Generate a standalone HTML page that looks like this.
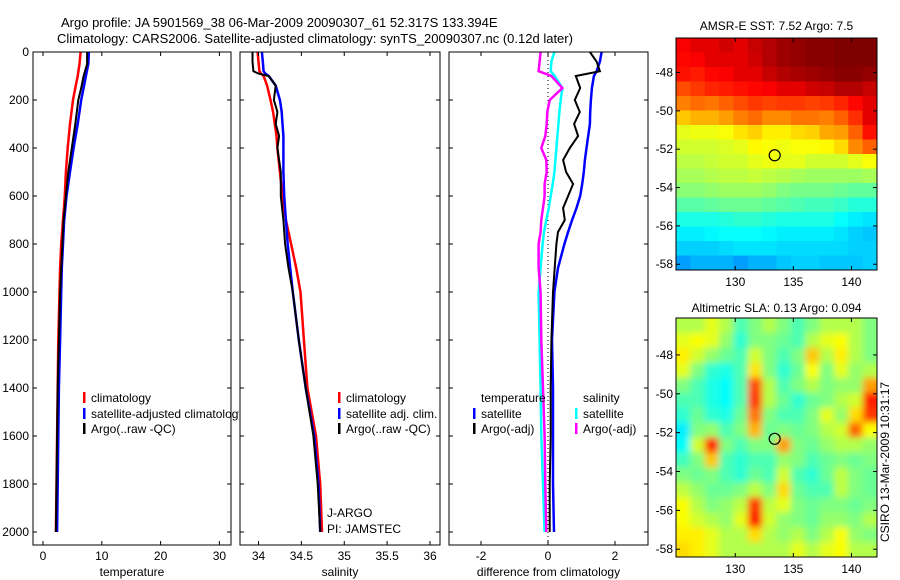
<!DOCTYPE html>
<html><head><meta charset="utf-8"><style>
html,body{margin:0;padding:0;background:#fff;}
svg{display:block;font-family:"Liberation Sans",Arial,sans-serif;}
</style></head><body>
<svg id="chart" width="900" height="580" viewBox="0 0 900 580" xmlns="http://www.w3.org/2000/svg">
<defs>
<clipPath id="cp1"><rect x="33" y="52" width="206" height="493"/></clipPath>
<clipPath id="cp2"><rect x="240" y="52" width="200" height="493"/></clipPath>
<clipPath id="cp3"><rect x="449" y="52" width="199" height="493"/></clipPath>
<clipPath id="cpm1"><rect x="676" y="38" width="201" height="232"/></clipPath>
<clipPath id="cpm2"><rect x="676" y="318" width="201" height="239"/></clipPath>
<filter id="blur" x="-10%" y="-10%" width="120%" height="120%"><feGaussianBlur stdDeviation="3.5"/></filter>
</defs>
<text x="61" y="27" font-size="13">Argo profile: JA 5901569_38 06-Mar-2009 20090307_61 52.317S 133.394E</text>
<text x="57" y="43" font-size="13">Climatology: CARS2006. Satellite-adjusted climatology: synTS_20090307.nc (0.12d later)</text>
<g id="g1"></g>
<g id="g2"></g>
<g id="g3"></g>
<g id="m1"></g>
<g id="m2"></g>
<text x="889" y="462" font-size="12" text-anchor="middle" transform="rotate(-90 889 462)">CSIRO 13-Mar-2009 10:31:17</text>
</svg>
<script>
// ---- data ----
const tDepth = [0,50,100,150,200,300,400,500,600,700,800,900,1000,1200,1400,1600,1800,2000];
const tClim  = [6.4,6.2,5.9,5.5,5.1,4.6,4.2,3.9,3.7,3.4,3.1,2.9,2.8,2.6,2.5,2.4,2.3,2.2];
const tSat   = [7.8,7.7,7.3,6.9,6.5,5.9,5.2,4.6,4.0,3.6,3.4,3.2,3.1,2.9,2.7,2.6,2.5,2.4];
const tArgo  = [7.5,7.5,6.9,6.5,6.0,5.5,4.9,4.3,3.9,3.5,3.3,3.1,2.9,2.7,2.5,2.4,2.3,2.2];
const sDepth = [0,40,80,90,100,140,200,250,300,350,400,500,600,700,800,900,1000,1200,1400,1600,1800,2000];
const sClim  = [33.99,34.0,34.01,34.03,34.06,34.10,34.14,34.17,34.19,34.21,34.22,34.25,34.28,34.32,34.38,34.44,34.49,34.53,34.57,34.67,34.72,34.74];
const sSat   = [34.04,34.05,34.06,34.08,34.12,34.20,34.25,34.27,34.28,34.29,34.29,34.29,34.30,34.32,34.34,34.37,34.40,34.47,34.55,34.65,34.70,34.72];
const sArgo  = [33.93,33.93,33.94,34.0,34.12,34.20,34.18,34.22,34.20,34.24,34.22,34.26,34.26,34.29,34.31,34.35,34.40,34.47,34.55,34.64,34.69,34.72];
const dDepth = [0,40,80,100,150,200,250,300,350,400,450,500,550,600,650,700,750,800,900,1000,1200,1400,1600,1800,2000];
const dSatT  = [1.6,1.55,1.45,1.37,1.31,1.28,1.26,1.25,1.2,1.15,1.1,1.07,1.02,0.96,0.85,0.72,0.6,0.49,0.3,0.19,0.12,0.15,0.15,0.15,0.18];
const dArgoT = [1.25,1.45,1.55,0.83,0.96,0.8,0.95,0.78,0.9,0.65,0.45,0.54,0.75,0.6,0.45,0.5,0.3,0.25,0.2,0.15,0.1,0.08,0.08,0.05,0.05];
const dSatS  = [0.19,0.1,0.08,0.2,0.43,0.38,0.34,0.31,0.28,0.25,0.22,0.19,0.14,0.08,0.02,-0.05,-0.12,-0.16,-0.22,-0.28,-0.25,-0.22,-0.2,-0.15,-0.1];
const dArgoS = [-0.22,-0.25,-0.28,0.1,0.43,0.05,-0.02,-0.04,-0.08,-0.2,-0.05,-0.04,-0.1,-0.1,-0.15,-0.2,-0.22,-0.28,-0.28,-0.22,-0.2,-0.15,-0.1,-0.08,-0.05];
const depthTicks = [0,200,400,600,800,1000,1200,1400,1600,1800,2000];
const tTicks = [0,10,20,30];
const sTicks = [34,34.5,35,35.5,36];
const sTickLabels = ["34","34.5","35","35.5","36"];
const dTicks = [-2,0,2];
const latTicks = [-48,-50,-52,-54,-56,-58];
const latLabels = ["-48","-50","-52","-54","-56","-58"];
const lonTicks = [130,135,140];
const sstGrid = [
[.88,.9,.9,.92,.9,.93,.95,.97,.98,.99,.99,1,1,1],
[.87,.88,.9,.9,.9,.92,.95,.97,.98,.99,.99,1,1,1],
[.86,.85,.87,.88,.9,.9,.93,.95,.96,.97,.98,.99,.99,.98],
[.8,.82,.84,.85,.86,.87,.88,.9,.9,.92,.93,.95,.95,.93],
[.75,.77,.76,.78,.8,.82,.81,.82,.82,.81,.82,.84,.87,.9],
[.68,.7,.7,.72,.75,.77,.74,.74,.76,.76,.75,.78,.83,.9],
[.6,.61,.61,.62,.65,.67,.64,.64,.66,.67,.71,.72,.78,.86],
[.58,.58,.58,.59,.6,.63,.62,.61,.62,.62,.63,.66,.74,.78],
[.56,.56,.57,.58,.58,.6,.61,.6,.6,.58,.58,.58,.6,.62],
[.54,.54,.55,.56,.56,.57,.56,.55,.54,.53,.53,.53,.53,.54],
[.51,.51,.52,.53,.53,.53,.52,.5,.49,.49,.49,.48,.47,.47],
[.46,.46,.47,.48,.48,.48,.47,.46,.45,.44,.44,.43,.41,.41],
[.4,.4,.4,.41,.42,.42,.41,.4,.4,.4,.4,.38,.36,.35],
[.36,.36,.37,.38,.38,.38,.37,.36,.36,.36,.36,.35,.33,.32],
[.33,.33,.33,.34,.35,.35,.35,.34,.34,.34,.34,.34,.33,.33],
[.28,.3,.3,.3,.28,.3,.3,.32,.33,.33,.32,.32,.32,.33]];
const slaGrid = [
[.55,.55,.6,.55,.45,.5,.55,.5,.45,.5,.55,.55,.55,.5],
[.6,.62,.6,.52,.42,.5,.5,.48,.45,.55,.6,.62,.55,.5],
[.64,.58,.52,.48,.45,.58,.5,.45,.5,.68,.55,.64,.55,.5],
[.6,.5,.42,.4,.45,.65,.5,.42,.48,.62,.5,.6,.52,.55],
[.5,.45,.4,.38,.45,.8,.55,.45,.5,.55,.5,.52,.52,.72],
[.45,.45,.4,.38,.45,.82,.55,.48,.42,.48,.5,.55,.58,.85],
[.42,.48,.42,.4,.48,.76,.5,.45,.45,.5,.6,.52,.66,.82],
[.36,.5,.52,.45,.5,.7,.48,.5,.48,.5,.55,.58,.78,.62],
[.38,.58,.84,.5,.45,.5,.5,.72,.5,.48,.52,.55,.55,.52],
[.44,.5,.68,.45,.42,.45,.45,.52,.5,.45,.48,.5,.48,.5],
[.5,.48,.5,.45,.42,.48,.45,.58,.45,.42,.48,.56,.5,.48],
[.56,.52,.48,.48,.5,.56,.5,.66,.48,.45,.45,.56,.5,.48],
[.62,.55,.5,.52,.56,.82,.56,.6,.5,.48,.5,.5,.48,.5],
[.62,.58,.55,.52,.6,.86,.58,.52,.5,.48,.52,.52,.5,.55],
[.64,.64,.6,.55,.55,.66,.55,.52,.55,.5,.55,.62,.52,.5],
[.66,.64,.6,.55,.55,.55,.55,.55,.6,.55,.6,.62,.55,.55]];
const argoLon = 133.394, argoLat = -52.317;

// ---- helpers ----
const NS = "http://www.w3.org/2000/svg";
function mk(parent, tag, attrs){ const e=document.createElementNS(NS,tag); for(const k in attrs) e.setAttribute(k,attrs[k]); parent.appendChild(e); return e; }
const Y0=52, Y1=545;
function yD(d){ return 52 + d*0.24; }
const xT = v => 43 + v*5.88;
const xS = v => 258.5 + (v-34)*85.75;
const xDf = v => 548 + v*33.5;

function panel(g, x0, x1, xTicksArr, xf, tickLbls, xlabel, showY){
  const box = mk(g,'rect',{x:x0,y:Y0,width:x1-x0,height:Y1-Y0,fill:'none',stroke:'#000','stroke-width':1});
  
  
  depthTicks.forEach(d=>{
    const y=yD(d);
    mk(g,'line',{x1:x0,x2:x0+4,y1:y,y2:y,stroke:'#000'});
    mk(g,'line',{x1:x1-4,x2:x1,y1:y,y2:y,stroke:'#000'});
    if(showY){
      const t=mk(g,'text',{x:x0-4,y:y+4,'font-size':12,'text-anchor':'end'});
      t.textContent=d;
      
      
    }
  });
  xTicksArr.forEach((v,i)=>{
    const x=xf(v);
    mk(g,'line',{x1:x,x2:x,y1:Y1,y2:Y1-4,stroke:'#000'});
    mk(g,'line',{x1:x,x2:x,y1:Y0,y2:Y0+4,stroke:'#000'});
    const t=mk(g,'text',{x:x,y:560,'font-size':12,'text-anchor':'middle'});
    t.textContent=tickLbls[i];
    
    
  });
  const xl=mk(g,'text',{x:(x0+x1)/2,y:576,'font-size':12,'text-anchor':'middle'});
  xl.textContent=xlabel;
  
  
}
function series(g, depths, vals, xf, color, clip, name, w){
  const pts=depths.map((d,i)=>xf(vals[i]).toFixed(1)+','+yD(d).toFixed(1)).join(' ');
  const p=mk(g,'polyline',{points:pts,fill:'none',stroke:color,'stroke-width':w||2.5,'clip-path':'url(#'+clip+')'});
  
  
}
function legendEntry(g,x,y,color,label,name){
  mk(g,'rect',{x:x,y:y-10,width:2.5,height:11,fill:color});
  const t=mk(g,'text',{x:x+8,y:y,'font-size':12});
  t.textContent=label;
  
  
  return t;
}

// panel 1
const g1=document.getElementById('g1');
series(g1,tDepth,tClim,xT,'#f00','cp1','temp-climatology-line');
series(g1,tDepth,tSat,xT,'#00f','cp1','temp-satellite-line');
series(g1,tDepth,tArgo,xT,'#000','cp1','temp-argo-line',2);
panel(g1,33,231,tTicks,xT,tTicks.map(String),'temperature',true);
const lg1=mk(g1,'g',{'clip-path':'url(#cp1)'});
legendEntry(lg1,83,402,'#f00','climatology','legend-climatology');
legendEntry(lg1,83,418,'#00f','satellite-adjusted climatology','legend-satellite-adjusted');
legendEntry(lg1,83,433,'#000','Argo(..raw -QC)','legend-argo');

// panel 2
const g2=document.getElementById('g2');
series(g2,sDepth,sClim,xS,'#f00','cp2','sal-climatology-line');
series(g2,sDepth,sSat,xS,'#00f','cp2','sal-satellite-line');
series(g2,sDepth,sArgo,xS,'#000','cp2','sal-argo-line',2);
panel(g2,240,440,sTicks,xS,sTickLabels,'salinity',false);
legendEntry(g2,338,402,'#f00','climatology','legend-climatology');
legendEntry(g2,338,418,'#00f','satellite adj. clim.','legend-satellite-adj');
legendEntry(g2,338,433,'#000','Argo(..raw -QC)','legend-argo');
const ja=mk(g2,'text',{x:327,y:517,'font-size':12}); ja.textContent='J-ARGO';


const pi=mk(g2,'text',{x:327,y:533,'font-size':12}); pi.textContent='PI: JAMSTEC';



// panel 3
const g3=document.getElementById('g3');
mk(g3,'line',{x1:xDf(0),x2:xDf(0),y1:Y0,y2:Y1,stroke:'#000','stroke-dasharray':'1,3'});
series(g3,dDepth,dSatT,xDf,'#00f','cp3','diff-temp-satellite-line');
series(g3,dDepth,dArgoT,xDf,'#000','cp3','diff-temp-argo-line',2);
series(g3,dDepth,dSatS,xDf,'#0ff','cp3','diff-sal-satellite-line');
series(g3,dDepth,dArgoS,xDf,'#f0f','cp3','diff-sal-argo-line');
panel(g3,449,648,dTicks,xDf,dTicks.map(String),'difference from climatology',false);
const tl=mk(g3,'text',{x:481,y:402,'font-size':12}); tl.textContent='temperature';


const sl=mk(g3,'text',{x:583,y:402,'font-size':12}); sl.textContent='salinity';


legendEntry(g3,473,418,'#00f','satellite','legend-temp-satellite');
legendEntry(g3,473,433,'#000','Argo(-adj)','legend-temp-argo');
legendEntry(g3,575,418,'#0ff','satellite','legend-sal-satellite');
legendEntry(g3,575,433,'#f0f','Argo(-adj)','legend-sal-argo');

// jet colormap
function jet(v){
  v=Math.max(0,Math.min(1,v));
  const c=x=>Math.round(255*Math.max(0,Math.min(1,1.5-Math.abs(4*v-x))));
  return 'rgb('+c(3)+','+c(2)+','+c(1)+')';
}
function map(gid,y0,y1,grid,clip,titleTxt,titleY,lat0,lat1,blurIt){
  const g=document.getElementById(gid);
  const x0=676,x1=877,lon0=124.9,lon1=142.2;
  const xl=lon=>x0+(lon-lon0)/(lon1-lon0)*(x1-x0);
  const yl=lat=>y0+(lat0-lat)/(lat0-lat1)*(y1-y0);
  const cg=mk(g,'g',{'clip-path':'url(#'+clip+')'});
  const inner=mk(cg,'g',blurIt?{filter:'url(#blur)'}:{});
  const nr=grid.length,nc=grid[0].length;
  const cw=(x1-x0)/nc, ch=(y1-y0)/nr;
  grid.forEach((row,r)=>row.forEach((v,c)=>{
    let xx=x0+c*cw, yy=y0+r*ch, ww=cw+0.6, hh=ch+0.6;
    if(blurIt){ if(c==0){xx-=12;ww+=12;} if(c==nc-1){ww+=12;} if(r==0){yy-=12;hh+=12;} if(r==nr-1){hh+=12;} }
    const cell=mk(inner,'rect',{x:xx,y:yy,width:ww,height:hh,fill:jet(v)});
    
    
  }));
  const fr=mk(g,'rect',{x:x0,y:y0,width:x1-x0,height:y1-y0,fill:'none',stroke:'#000'});
  
  
  latTicks.forEach((lat,i)=>{
    const y=yl(lat);
    mk(g,'line',{x1:x0,x2:x0+4,y1:y,y2:y,stroke:'#000'});
    mk(g,'line',{x1:x1-4,x2:x1,y1:y,y2:y,stroke:'#000'});
    const t=mk(g,'text',{x:x0-3,y:y+4,'font-size':12,'text-anchor':'end'});
    t.textContent=latLabels[i];
    
    
  });
  lonTicks.forEach(lon=>{
    const x=xl(lon);
    mk(g,'line',{x1:x,x2:x,y1:y1,y2:y1-4,stroke:'#000'});
    mk(g,'line',{x1:x,x2:x,y1:y0,y2:y0+4,stroke:'#000'});
    const t=mk(g,'text',{x:x,y:y1+16,'font-size':12,'text-anchor':'middle'});
    t.textContent=lon;
    
    
  });
  const c=mk(g,'circle',{cx:xl(argoLon),cy:yl(argoLat),r:5.5,fill:'none',stroke:'#000','stroke-width':1.2});
  
  
  const tt=mk(g,'text',{x:(x0+x1)/2,y:titleY,'font-size':12,'text-anchor':'middle'});
  tt.textContent=titleTxt;
  
  
}
map('m1',38,270,sstGrid,'cpm1','AMSR-E SST: 7.52 Argo: 7.5',30,-46.2,-58.3,false);
map('m2',318,557,slaGrid,'cpm2','Altimetric SLA: 0.13 Argo: 0.094',312,-46.1,-58.4,true);
</script>
</body></html>
